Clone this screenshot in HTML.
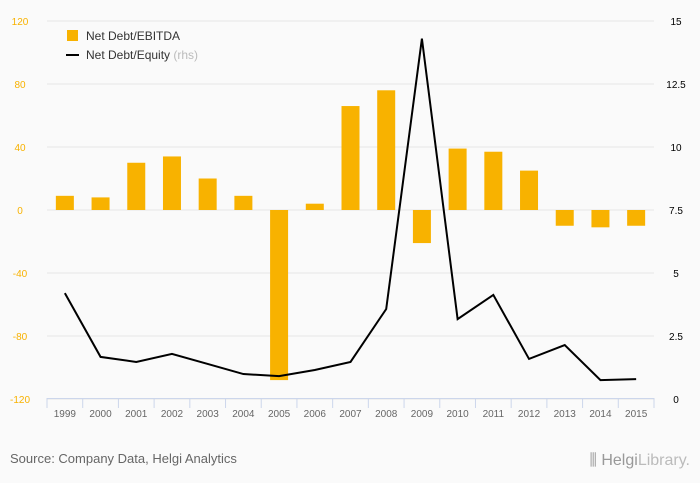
<!DOCTYPE html>
<html><head><meta charset="utf-8"><style>
body{margin:0;background:#fafafa;font-family:"Liberation Sans",sans-serif;}
svg{display:block}
</style></head><body>
<svg width="700" height="483">
<rect width="700" height="483" fill="#fafafa"/>
<g id="grid"></g><g id="bars"></g><g id="axes"></g>
<path id="line" fill="none" stroke="#000" stroke-width="2"/>
<g>
<rect x="67" y="30" width="11" height="11" fill="#f8b200"/>
<text x="86" y="40" font-size="12" fill="#333">Net Debt/EBITDA</text>
<line x1="66" y1="55" x2="79" y2="55" stroke="#000" stroke-width="2"/>
<text x="86" y="59" font-size="12" fill="#333">Net Debt/Equity <tspan fill="#bbb">(rhs)</tspan></text>
</g>
<text x="10" y="463" font-size="13" fill="#666">Source: Company Data, Helgi Analytics</text>
<text x="690" y="465" font-size="16" fill="#999" text-anchor="end">⫼ Helgi<tspan fill="#bbb">Library.</tspan></text>
</svg>
<script>
const years=["1999","2000","2001","2002","2003","2004","2005","2006","2007","2008","2009","2010","2011","2012","2013","2014","2015"];
const ebitda=[9,8,30,34,20,9,-108,4,66,76,-21,39,37,25,-10,-11,-10];
const equity=[4.2,1.67,1.47,1.79,1.39,0.99,0.91,1.15,1.47,3.57,14.3,3.17,4.13,1.59,2.14,0.75,0.79];
const leftTicks=[120,80,40,0,-40,-80,-120];
const rightTicks=["15","12.5","10","7.5","5","2.5","0"];
const NS="http://www.w3.org/2000/svg";
const x0=47,x1=654,yTop=21,yBot=399,step=(x1-x0)/years.length;
const yL=v=>210-v*(yBot-yTop)/240;
const yR=v=>yBot-v*(yBot-yTop)/15;
const xC=i=>x0+step*(i+0.5);
function mk(tag,attrs,parent,text){const e=document.createElementNS(NS,tag);for(const k in attrs)e.setAttribute(k,attrs[k]);if(text!==undefined)e.textContent=text;document.getElementById(parent).appendChild(e);return e;}
leftTicks.forEach((t,i)=>{
 const y=yL(t);
 const g=mk('line',{x1:x0,x2:x1,y1:y,y2:y,stroke:'#e6e6e6'},'grid');
 
 
 const a=mk('text',{x:20,y:y+4,'font-size':10,fill:'#f8b200','text-anchor':'middle'},'axes',t);
 
 
 const b=mk('text',{x:676,y:y+4,'font-size':10,fill:'#000','text-anchor':'middle'},'axes',rightTicks[i]);
 
 
});
const ax=mk('line',{x1:x0,x2:x1,y1:398.5,y2:398.5,stroke:'#ccd6eb'},'axes');


for(let i=0;i<=years.length;i++){
 const t=mk('line',{x1:x0+step*i,x2:x0+step*i,y1:398,y2:408,stroke:'#ccd6eb'},'axes');
 
 
}
years.forEach((yr,i)=>{
 const t=mk('text',{x:xC(i),y:417,'font-size':10,fill:'#666','text-anchor':'middle'},'axes',yr);
 
 
 const v=ebitda[i],y=Math.min(yL(v),yL(0)),h=Math.abs(yL(v)-yL(0));
 const r=mk('rect',{x:xC(i)-9,y:y,width:18,height:h,fill:'#f8b200'},'bars');
 
 
});
document.getElementById('line').setAttribute('d',equity.map((v,i)=>(i?'L':'M')+xC(i)+','+yR(v)).join(''));
</script>
</body></html>
